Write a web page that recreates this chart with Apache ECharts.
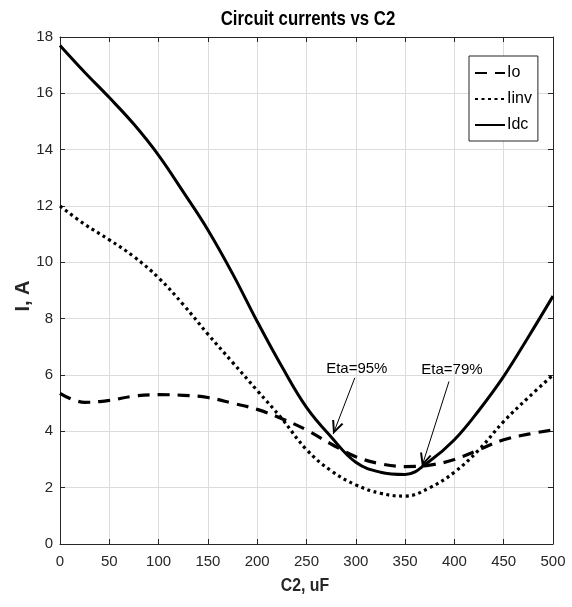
<!DOCTYPE html>
<html>
<head>
<meta charset="utf-8">
<script src="https://cdn.jsdelivr.net/npm/echarts@6/dist/echarts.min.js"></script>
<style>html,body{margin:0;padding:0;background:#fff}#c{width:572px;height:607px}</style>
</head>
<body>
<div id="c"></div>
<script>
var c2Values   = [0, 25, 50, 75, 100, 125, 150, 175, 200, 225, 250, 275, 300, 325, 350, 375, 400, 425, 450, 475, 500];
var ioValues   = [5.35, 5.03, 5.1, 5.25, 5.3, 5.28, 5.2, 5.0, 4.78, 4.45, 4.05, 3.55, 3.1, 2.85, 2.75, 2.8, 3.0, 3.35, 3.7, 3.9, 4.05];
var iinvValues = [12.0, 11.35, 10.8, 10.2, 9.45, 8.5, 7.45, 6.45, 5.45, 4.45, 3.35, 2.6, 2.1, 1.8, 1.7, 2.0, 2.55, 3.35, 4.35, 5.2, 6.0];
var idcValues  = [17.7, 16.75, 15.85, 14.9, 13.8, 12.5, 11.15, 9.6, 7.9, 6.3, 4.85, 3.8, 2.9, 2.55, 2.47, 2.95, 3.7, 4.75, 5.95, 7.35, 8.8];
var seriesNames = ['Io', 'Iinv', 'Idc'];
var xTicks = [0, 50, 100, 150, 200, 250, 300, 350, 400, 450, 500];
var yTicks = [0, 2, 4, 6, 8, 10, 12, 14, 16, 18];
var titleText = 'Circuit currents vs C2';
var xName = 'C2, uF';
var yName = 'I, A';
var annotTexts = ['Eta=95%', 'Eta=79%'];
var annotTextPos = [[301, 6.22], [397.5, 6.17]];
var annotArrowFrom = [[299, 5.9], [394.5, 5.77]];
var annotArrowTo = [[277, 3.9], [367, 2.75]];

var FONT = '"Liberation Sans", Arial, sans-serif';
function pairs(xs, ys) { return xs.map(function (x, i) { return [x, ys[i]]; }); }

var chart = echarts.init(document.getElementById('c'), null, {renderer: 'canvas'});
var axisTextColor = '#262626';
var baseX = {
  type: 'value', min: xTicks[0], max: xTicks[xTicks.length - 1], interval: 50,
  axisLine: {show: true, onZero: false, lineStyle: {color: '#262626', width: 1}},
  axisTick: {show: true, inside: true, length: 5, lineStyle: {color: '#262626'}},
  splitLine: {show: false}
};
var baseY = {
  type: 'value', min: yTicks[0], max: yTicks[yTicks.length - 1], interval: 2,
  axisLine: {show: true, onZero: false, lineStyle: {color: '#262626', width: 1}},
  axisTick: {show: true, inside: true, length: 5, lineStyle: {color: '#262626'}},
  splitLine: {show: false}
};

// open V arrow head with its tip at the symbol centre (pointing up before rotation)
var chevron = 'path://M0,-13.6 L0.01,-13.6 Z M0,0 L-6,13 L-4.1,13.6 L0,4.6 L4.1,13.6 L6,13 Z';

var option = {
  animation: false,
  backgroundColor: '#ffffff',
  graphic: [
    {type: 'text', x: 308, y: 19, scaleX: 0.8, z: 10,
     style: {text: titleText, font: 'bold 21px ' + FONT, fill: '#000', align: 'center', verticalAlign: 'middle'}},
    {type: 'text', x: 305, y: 586, scaleX: 0.88, z: 10,
     style: {text: xName, font: 'bold 18px ' + FONT, fill: '#262626', align: 'center', verticalAlign: 'middle'}},
    {type: 'text', x: 23, y: 296, rotation: Math.PI / 2, scaleX: 1, z: 10,
     style: {text: yName, font: 'bold 20px ' + FONT, fill: '#262626', align: 'center', verticalAlign: 'middle'}}
  ],
  grid: {left: 60, right: 19, top: 37, bottom: 63, show: false},
  legend: {
    data: seriesNames, orient: 'vertical', left: 469, top: 56,
    backgroundColor: '#fff', borderColor: '#262626', borderWidth: 1,
    padding: [9, 6, 8, 5], itemGap: 10, itemWidth: 30, itemHeight: 14,
    itemStyle: {color: 'rgba(0,0,0,0)', borderWidth: 0, opacity: 0},
    textStyle: {fontFamily: FONT, fontSize: 16, color: '#000', padding: [0, 0, 0, -3]},
    selectedMode: false
  },
  xAxis: [
    Object.assign({}, baseX, {
      position: 'bottom',
      axisLabel: {fontFamily: FONT, fontSize: 15, color: axisTextColor, margin: 10},
      splitLine: {show: true, lineStyle: {color: '#dcdcdc', width: 1}}
    }),
    Object.assign({}, baseX, {position: 'top', axisLabel: {show: false}})
  ],
  yAxis: [
    Object.assign({}, baseY, {
      position: 'left',
      axisLabel: {fontFamily: FONT, fontSize: 15, color: axisTextColor, margin: 7},
      splitLine: {show: true, lineStyle: {color: '#dcdcdc', width: 1}}
    }),
    Object.assign({}, baseY, {position: 'right', axisLabel: {show: false}})
  ],
  series: [
    {name: seriesNames[0], type: 'line', smooth: 0.4, symbol: 'none', data: pairs(c2Values, ioValues),
     lineStyle: {color: '#000', width: 3.2, type: [12, 8]}, itemStyle: {color: '#000'}, z: 3},
    {name: seriesNames[1], type: 'line', smooth: 0.4, symbol: 'none', data: pairs(c2Values, iinvValues),
     lineStyle: {color: '#000', width: 3.2, type: [3, 3.5]}, itemStyle: {color: '#000'}, z: 3},
    {name: seriesNames[2], type: 'line', smooth: 0.4, symbol: 'none', data: pairs(c2Values, idcValues),
     lineStyle: {color: '#000', width: 3, type: 'solid'}, itemStyle: {color: '#000'}, z: 4},
    {name: 'annot', type: 'line', data: [], symbol: 'none', z: 5,
     markLine: {
       silent: true, animation: false,
       symbol: ['none', chevron], symbolSize: [12, 27],
       label: {show: false},
       lineStyle: {color: '#000', width: 1, type: 'solid'},
       itemStyle: {color: '#000'},
       data: annotArrowFrom.map(function (f, i) { return [{coord: f}, {coord: annotArrowTo[i]}]; })
     },
     markPoint: {
       silent: true, symbol: 'rect', symbolSize: 1, itemStyle: {color: 'rgba(0,0,0,0)'},
       label: {show: true, position: 'inside', fontFamily: FONT, fontSize: 15, color: '#000',
               formatter: function (p) { return p.name; }},
       data: annotTexts.map(function (t, i) { return {name: t, coord: annotTextPos[i]}; })
     }
    }
  ]
};
chart.setOption(option);
</script>
</body>
</html>
